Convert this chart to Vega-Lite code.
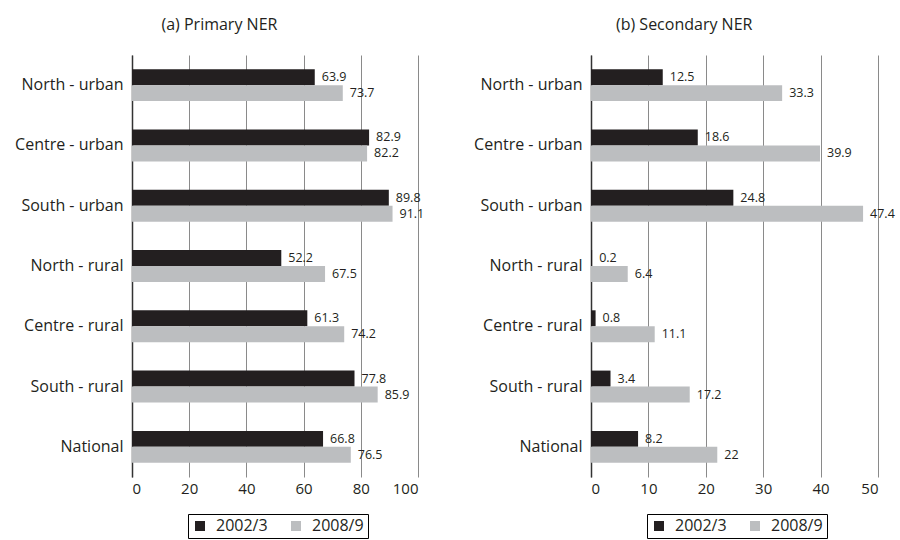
{
  "$schema": "https://vega.github.io/schema/vega-lite/v6.json",
  "background": "white",
  "padding": {"left": 14, "top": 17, "right": 5, "bottom": 0},
  "config": {
    "font": "Open Sans",
    "view": {"stroke": null},
    "title": {"fontSize": 16, "fontWeight": "normal", "color": "#231f20", "anchor": "middle", "frame": "bounds", "offset": 22},
    "axisY": {"domain": true, "domainColor": "#333333", "domainWidth": 1.5, "ticks": false, "grid": false, "labelPadding": 9, "labelFontSize": 16, "labelColor": "#231f20", "title": null, "zindex": 2},
    "axisX": {"domain": false, "ticks": false, "grid": true, "gridColor": "#8a8a8a", "gridWidth": 1, "labelPadding": 4, "labelFontSize": 15, "labelColor": "#231f20", "title": null, "zindex": 1},
    "legend": {"orient": "none", "legendX": 56, "legendY": 459, "direction": "horizontal", "title": null, "strokeColor": "#000000", "strokeWidth": 1, "padding": 4, "symbolType": "square", "symbolSize": 100, "symbolStrokeWidth": 0, "labelFontSize": 16, "labelColor": "#231f20", "columnPadding": 20, "labelOffset": 8}
  },
  "datasets": {
    "primary": [
      {"region": "North - urban", "year": "2002/3", "value": 63.9},
      {"region": "North - urban", "year": "2008/9", "value": 73.7},
      {"region": "Centre - urban", "year": "2002/3", "value": 82.9},
      {"region": "Centre - urban", "year": "2008/9", "value": 82.2},
      {"region": "South - urban", "year": "2002/3", "value": 89.8},
      {"region": "South - urban", "year": "2008/9", "value": 91.1},
      {"region": "North - rural", "year": "2002/3", "value": 52.2},
      {"region": "North - rural", "year": "2008/9", "value": 67.5},
      {"region": "Centre - rural", "year": "2002/3", "value": 61.3},
      {"region": "Centre - rural", "year": "2008/9", "value": 74.2},
      {"region": "South - rural", "year": "2002/3", "value": 77.8},
      {"region": "South - rural", "year": "2008/9", "value": 85.9},
      {"region": "National", "year": "2002/3", "value": 66.8},
      {"region": "National", "year": "2008/9", "value": 76.5}
    ],
    "secondary": [
      {"region": "North - urban", "year": "2002/3", "value": 12.5},
      {"region": "North - urban", "year": "2008/9", "value": 33.3},
      {"region": "Centre - urban", "year": "2002/3", "value": 18.6},
      {"region": "Centre - urban", "year": "2008/9", "value": 39.9},
      {"region": "South - urban", "year": "2002/3", "value": 24.8},
      {"region": "South - urban", "year": "2008/9", "value": 47.4},
      {"region": "North - rural", "year": "2002/3", "value": 0.2},
      {"region": "North - rural", "year": "2008/9", "value": 6.4},
      {"region": "Centre - rural", "year": "2002/3", "value": 0.8},
      {"region": "Centre - rural", "year": "2008/9", "value": 11.1},
      {"region": "South - rural", "year": "2002/3", "value": 3.4},
      {"region": "South - rural", "year": "2008/9", "value": 17.2},
      {"region": "National", "year": "2002/3", "value": 8.2},
      {"region": "National", "year": "2008/9", "value": 22}
    ]
  },
  "spacing": 48,
  "resolve": {"scale": {"color": "independent"}, "legend": {"color": "independent"}},
  "hconcat": [
    {
      "width": 286,
      "height": 422,
      "title": "(a) Primary NER",
      "data": {"name": "primary"},
      "encoding": {
        "y": {"field": "region", "type": "nominal", "sort": ["North - urban", "Centre - urban", "South - urban", "North - rural", "Centre - rural", "South - rural", "National"], "scale": {"paddingInner": 0.47, "paddingOuter": 0.235}},
        "yOffset": {"field": "year", "type": "nominal", "sort": ["2002/3", "2008/9"]},
        "x": {"field": "value", "type": "quantitative", "scale": {"domain": [0, 100], "nice": false}, "axis": {"values": [0, 20, 40, 60, 80, 100]}}
      },
      "layer": [
        {
          "mark": {"type": "bar"},
          "encoding": {"color": {"field": "year", "type": "nominal", "scale": {"domain": ["2002/3", "2008/9"], "range": ["#231f20", "#bcbec0"]}}}
        },
        {
          "mark": {"type": "text", "align": "left", "baseline": "middle", "dx": 7, "fontSize": 12.5, "color": "#231f20"},
          "encoding": {"text": {"field": "value", "type": "nominal"}}
        }
      ]
    },
    {
      "width": 287,
      "height": 422,
      "title": "(b) Secondary NER",
      "data": {"name": "secondary"},
      "encoding": {
        "y": {"field": "region", "type": "nominal", "sort": ["North - urban", "Centre - urban", "South - urban", "North - rural", "Centre - rural", "South - rural", "National"], "scale": {"paddingInner": 0.47, "paddingOuter": 0.235}},
        "yOffset": {"field": "year", "type": "nominal", "sort": ["2002/3", "2008/9"]},
        "x": {"field": "value", "type": "quantitative", "scale": {"domain": [0, 50], "nice": false}, "axis": {"values": [0, 10, 20, 30, 40, 50]}}
      },
      "layer": [
        {
          "mark": {"type": "bar"},
          "encoding": {"color": {"field": "year", "type": "nominal", "scale": {"domain": ["2002/3", "2008/9"], "range": ["#231f20", "#bcbec0"]}}}
        },
        {
          "mark": {"type": "text", "align": "left", "baseline": "middle", "dx": 7, "fontSize": 12.5, "color": "#231f20"},
          "encoding": {"text": {"field": "value", "type": "nominal"}}
        }
      ]
    }
  ]
}
